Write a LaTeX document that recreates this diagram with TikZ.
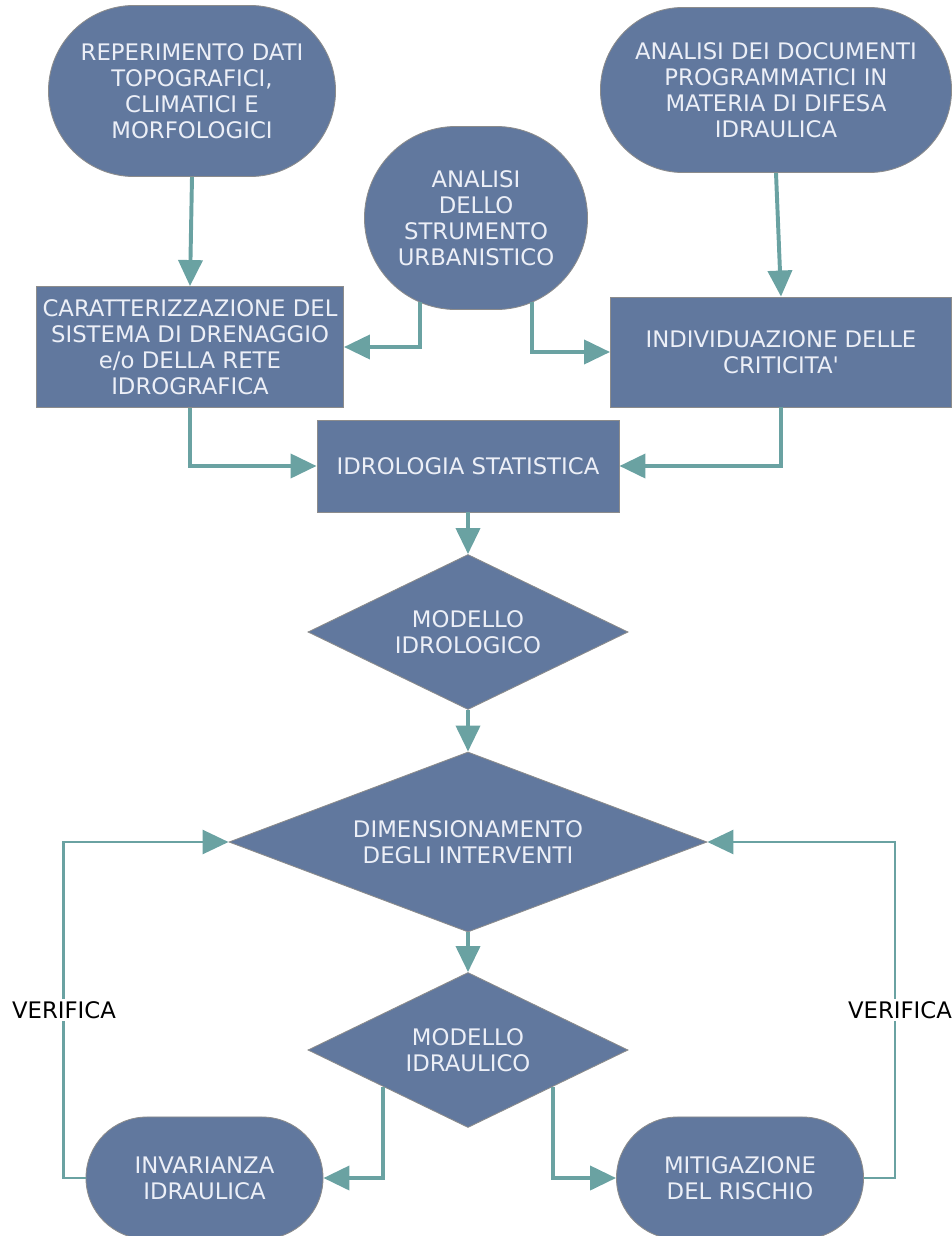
\documentclass[tikz,border=0pt]{standalone}
\usepackage{fontspec}
\setmainfont{DejaVu Sans}
\usetikzlibrary{shapes.geometric,shapes.misc,arrows.meta,calc}
\definecolor{boxblue}{RGB}{97,120,158}
\definecolor{boxedge}{RGB}{140,140,140}
\definecolor{boxtext}{RGB}{236,239,247}
\definecolor{linkteal}{RGB}{106,162,162}

\begin{document}
\begin{tikzpicture}[x=0.025cm, y=-0.025cm,
    base/.style={fill=boxblue, draw=boxedge, line width=0.6pt, text=boxtext, align=center,
      inner sep=0pt, font=\fontsize{16.2}{18.6}\selectfont},
    term/.style={base, rounded rectangle},
    proc/.style={base, rectangle},
    test/.style={base, diamond},
    arr/.style={-{Triangle[length=0.65cm, width=0.6cm]}, linkteal, line width=2.8pt},
    back/.style={arr, line width=2pt},
    tag/.style={fill=white, inner sep=2pt, font=\fontsize{16.2}{18.6}\selectfont}]
    \useasboundingbox (0, 0) rectangle (952, 1236);
    \node[term, minimum width=7.175cm, minimum height=4.275cm] (rep) at (192, 91)
      {REPERIMENTO DATI\\TOPOGRAFICI,\\CLIMATICI E\\MORFOLOGICI};
    \node[term, minimum width=8.775cm, minimum height=4.125cm] (doc) at (776, 90)
      {ANALISI DEI DOCUMENTI\\PROGRAMMATICI IN\\MATERIA DI DIFESA\\IDRAULICA};
    \node[term, minimum width=5.575cm, minimum height=4.575cm] (strum) at (476, 218)
      {ANALISI\\DELLO\\STRUMENTO\\URBANISTICO};
    \node[proc, minimum width=7.675cm, minimum height=3.025cm] (car) at (190, 347)
      {CARATTERIZZAZIONE DEL\\SISTEMA DI DRENAGGIO\\e/o DELLA RETE\\IDROGRAFICA};
    \node[proc, minimum width=8.525cm, minimum height=2.75cm] (ind) at (781, 352)
      {INDIVIDUAZIONE DELLE\\CRITICITA\textquotesingle};
    \node[proc, minimum width=7.55cm, minimum height=2.3cm] (idro) at (468, 466)
      {IDROLOGIA STATISTICA};
    \node[test, aspect=2.06, minimum width=8cm, minimum height=3.875cm] (idrol) at (468, 632)
      {MODELLO\\IDROLOGICO};
    \node[test, aspect=2.66, minimum width=11.95cm, minimum height=4.5cm] (dim) at (468, 842)
      {DIMENSIONAMENTO\\DEGLI INTERVENTI};
    \node[test, aspect=2.06, minimum width=8cm, minimum height=3.875cm] (idrau) at (468, 1050)
      {MODELLO\\IDRAULICO};
    \node[term, minimum width=5.925cm, minimum height=3.05cm] (inv) at (204.5, 1178)
      {INVARIANZA\\IDRAULICA};
    \node[term, minimum width=6.175cm, minimum height=3.05cm] (mit) at (740, 1178)
      {MITIGAZIONE\\DEL RISCHIO};

    \draw[arr] (rep.south) -- (car.north);
    \draw[arr] (doc.south) -- (ind.north);
    \draw[arr] ($(strum.south) + (-56, -8)$) |- (car.east);
    \draw[arr] ($(strum.south) + (56, -8)$) |- (ind.west);
    \draw[arr] (car.south) |- (idro.west);
    \draw[arr] (ind.south) |- (idro.east);
    \draw[arr] (idro.south) -- (idrol.north);
    \draw[arr] (idrol.south) -- (dim.north);
    \draw[arr] (dim.south) -- (idrau.north);
    \draw[arr] ($(idrau.west)!0.47!(idrau.south)$) |- (inv.east);
    \draw[arr] ($(idrau.east)!0.47!(idrau.south)$) |- (mit.west);
    \draw[back] (inv.west) -- ++(-22, 0) |- (dim.west);
    \draw[back] (mit.east) -- ++(31, 0) |- (dim.east);
    \node[tag] (verl) at (64, 1010) {VERIFICA};
    \node[tag] (verr) at (900, 1010) {VERIFICA};
  \end{tikzpicture}
\end{document}
